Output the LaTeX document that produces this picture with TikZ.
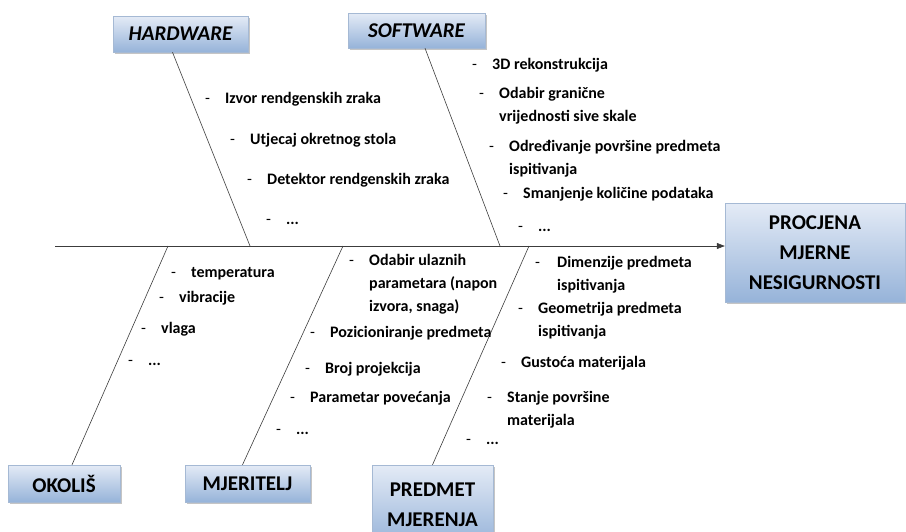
\documentclass[tikz,border=0pt]{standalone}
\usepackage{fontspec}
\setmainfont{Carlito}[BoldFont={Carlito Bold}, ItalicFont={Carlito Italic}, BoldItalicFont={Carlito Bold Italic}]
\usetikzlibrary{shadows,arrows.meta}

\definecolor{boxtop}{RGB}{228,235,246}
\definecolor{boxbot}{RGB}{150,179,217}
\definecolor{boxline}{RGB}{165,185,212}
\definecolor{bonecol}{RGB}{60,60,60}

\newcommand{\bul}{\makebox[20pt][l]{\mdseries -}}
\newcommand{\twol}[1]{\begin{tabular}[t]{@{}l@{}}#1\end{tabular}}

\tikzset{
  group/.style={draw=boxline, top color=boxtop, bottom color=boxbot,
    drop shadow={shadow xshift=2pt, shadow yshift=-2pt, fill=black!45, opacity=.5},
    font=\fontsize{21}{30}\selectfont\bfseries, align=center, inner sep=0pt},
  cause/.style={anchor=base west, inner sep=0pt, font=\fontsize{16}{23}\selectfont\bfseries},
  bone/.style={draw=bonecol, line width=0.6pt},
}

\begin{document}
\begin{tikzpicture}[x=1pt,y=-1pt]
\useasboundingbox (0,0) rectangle (906,531);

% main categories
\node[group, minimum width=135pt, minimum height=36pt] (hw) at (180.5,34) {\itshape HARDWARE};
\node[group, minimum width=137pt, minimum height=35pt] (sw) at (416.5,30.5) {\itshape SOFTWARE};
\node[group, minimum width=112pt, minimum height=37pt] (ok) at (64,483.5) {OKOLIŠ};
\node[group, minimum width=125pt, minimum height=37pt] (mj) at (247.5,483.5) {MJERITELJ};
\node[group, minimum width=121pt, minimum height=80pt] (pm) at (432.5,505) {PREDMET\\MJERENJA};
\node[group, minimum width=180pt, minimum height=99pt] (proc) at (815,252.5) {PROCJENA\\MJERNE\\NESIGURNOSTI};

% spine
\coordinate (tail) at (55,246);
\draw[bone, -{Triangle[length=8pt,width=6pt]}] (tail) -- (tail -| proc.west);

% bones
\coordinate (hwend) at (250,246);
\coordinate (swend) at (500,246);
\coordinate (okend) at (168,246);
\coordinate (mjend) at (343,246);
\coordinate (pmend) at (529,246);
\draw[bone] ([xshift=-8pt]hw.south) -- (hwend);
\draw[bone] ([xshift=8.5pt]sw.south) -- (swend);
\draw[bone] ([xshift=8pt]ok.north) -- (okend);
\draw[bone] ([xshift=-5pt]mj.north) -- (mjend);
\draw[bone] (pm.north) -- (pmend);

% hardware
\node[cause] (h1) at (205,103) {\bul Izvor rendgenskih zraka};
\node[cause] (h2) at (230,144) {\bul Utjecaj okretnog stola};
\node[cause] (h3) at (247,184) {\bul Detektor rendgenskih zraka};
\node[cause] (h4) at (266,224) {\bul ...};

% software
\node[cause] (s1) at (472,69) {\bul 3D rekonstrukcija};
\node[cause] (s2) at (479,98) {\bul\twol{Odabir granične\\vrijednosti sive skale}};
\node[cause] (s3) at (489,151) {\bul\twol{Određivanje površine predmeta\\ispitivanja}};
\node[cause] (s4) at (503,198) {\bul Smanjenje količine podataka};
\node[cause] (s5) at (518,231) {\bul ...};

% okolis
\node[cause] (o1) at (171,277) {\bul temperatura};
\node[cause] (o2) at (159,302) {\bul vibracije};
\node[cause] (o3) at (141,333) {\bul vlaga};
\node[cause] (o4) at (128,365) {\bul ...};

% mjeritelj
\node[cause] (m1) at (349,265) {\bul\twol{Odabir ulaznih\\parametara (napon\\izvora, snaga)}};
\node[cause] (m2) at (310,337) {\bul Pozicioniranje predmeta};
\node[cause] (m3) at (305,373) {\bul Broj projekcija};
\node[cause] (m4) at (290,402) {\bul Parametar povećanja};
\node[cause] (m5) at (276,434) {\bul ...};

% predmet mjerenja
\node[cause] (p1) at (535,267) {\makebox[22pt][l]{\mdseries -}\twol{Dimenzije predmeta\\ispitivanja}};
\node[cause] (p2) at (518,313) {\bul\twol{Geometrija predmeta\\ispitivanja}};
\node[cause] (p3) at (501,367) {\bul Gustoća materijala};
\node[cause] (p4) at (487,402) {\bul\twol{Stanje površine\\materijala}};
\node[cause] (p5) at (466,444) {\bul ...};
\end{tikzpicture}
\end{document}
